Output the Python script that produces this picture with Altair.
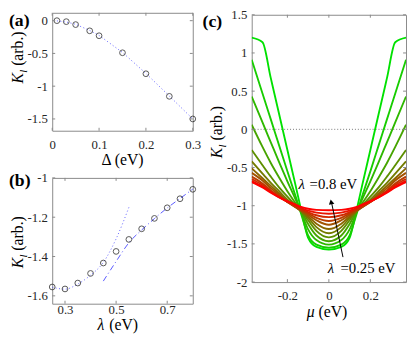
import altair as alt
import pandas as pd

# ---------------- data ----------------
# (a)
delta_a = [0.01, 0.03, 0.05, 0.08, 0.10, 0.15, 0.20, 0.25, 0.30]
k_a = [0.0, -0.015, -0.06, -0.155, -0.23, -0.49, -0.81, -1.155, -1.50]
fit_a_x = [0.01, 0.03, 0.05, 0.08, 0.10, 0.15, 0.20, 0.25, 0.30]
fit_a_y = [-0.003, -0.02, -0.055, -0.15, -0.225, -0.485, -0.805, -1.15, -1.50]

# (b)
lam_b = [0.25, 0.30, 0.35, 0.40, 0.45, 0.50, 0.55, 0.60, 0.65, 0.70, 0.75, 0.80]
k_b = [-1.555, -1.565, -1.535, -1.486, -1.433, -1.374, -1.313, -1.259, -1.206, -1.152, -1.106, -1.058]
fit_b1_x = [0.25, 0.30, 0.35, 0.40, 0.45, 0.50, 0.55]
fit_b1_y = [-1.556, -1.566, -1.54, -1.495, -1.43, -1.31, -1.15]
fit_b2_x = [0.45, 0.50, 0.55, 0.60, 0.65, 0.70, 0.75, 0.80]
fit_b2_y = [-1.525, -1.425, -1.33, -1.265, -1.207, -1.153, -1.105, -1.057]

# (c)
mu_c = [-0.372, -0.32, -0.28, -0.24, -0.20, -0.16, -0.13, -0.10, -0.06, 0.0,
        0.06, 0.10, 0.13, 0.16, 0.20, 0.24, 0.28, 0.32, 0.372]
lam_c = [0.25, 0.30, 0.35, 0.40, 0.45, 0.50, 0.55, 0.60, 0.65, 0.70, 0.75, 0.80]
k_c_025 = [1.20, 1.14, 0.67, 0.20, -0.27, -0.74, -1.10, -1.42, -1.54, -1.575,
           -1.54, -1.42, -1.10, -0.74, -0.27, 0.20, 0.67, 1.14, 1.20]
k_c_030 = [0.91, 0.47, 0.13, -0.21, -0.55, -0.88, -1.14, -1.39, -1.51, -1.55,
           -1.51, -1.39, -1.14, -0.88, -0.55, -0.21, 0.13, 0.47, 0.91]
k_c_035 = [0.43, 0.09, -0.17, -0.43, -0.68, -0.92, -1.11, -1.31, -1.45, -1.51,
           -1.45, -1.31, -1.11, -0.92, -0.68, -0.43, -0.17, 0.09, 0.43]
k_c_040 = [0.06, -0.23, -0.44, -0.63, -0.81, -0.97, -1.09, -1.24, -1.39, -1.465,
           -1.39, -1.24, -1.09, -0.97, -0.81, -0.63, -0.44, -0.23, 0.06]
k_c_045 = [-0.27, -0.47, -0.62, -0.76, -0.88, -1.00, -1.08, -1.19, -1.33, -1.415,
           -1.33, -1.19, -1.08, -1.00, -0.88, -0.76, -0.62, -0.47, -0.27]
k_c_050 = [-0.42, -0.58, -0.70, -0.81, -0.92, -1.01, -1.08, -1.16, -1.28, -1.36,
           -1.28, -1.16, -1.08, -1.01, -0.92, -0.81, -0.70, -0.58, -0.42]
k_c_055 = [-0.51, -0.64, -0.74, -0.84, -0.94, -1.02, -1.08, -1.14, -1.235, -1.305,
           -1.235, -1.14, -1.08, -1.02, -0.94, -0.84, -0.74, -0.64, -0.51]
k_c_060 = [-0.57, -0.67, -0.77, -0.86, -0.95, -1.02, -1.07, -1.12, -1.19, -1.25,
           -1.19, -1.12, -1.07, -1.02, -0.95, -0.86, -0.77, -0.67, -0.57]
k_c_065 = [-0.62, -0.71, -0.80, -0.88, -0.95, -1.015, -1.06, -1.10, -1.16, -1.20,
           -1.16, -1.10, -1.06, -1.015, -0.95, -0.88, -0.80, -0.71, -0.62]
k_c_070 = [-0.65, -0.73, -0.81, -0.88, -0.95, -1.005, -1.05, -1.085, -1.125, -1.15,
           -1.125, -1.085, -1.05, -1.005, -0.95, -0.88, -0.81, -0.73, -0.65]
k_c_075 = [-0.675, -0.75, -0.82, -0.89, -0.945, -0.995, -1.035, -1.065, -1.09, -1.105,
           -1.09, -1.065, -1.035, -0.995, -0.945, -0.89, -0.82, -0.75, -0.675]
k_c_080 = [-0.69, -0.76, -0.83, -0.89, -0.94, -0.985, -1.02, -1.04, -1.055, -1.06,
           -1.055, -1.04, -1.02, -0.985, -0.94, -0.89, -0.83, -0.76, -0.69]
curves_c = [k_c_025, k_c_030, k_c_035, k_c_040, k_c_045, k_c_050,
            k_c_055, k_c_060, k_c_065, k_c_070, k_c_075, k_c_080]

ticks_a_x = [0, 0.1, 0.2, 0.3]
ticks_a_y = [0, -0.5, -1, -1.5]
ticks_b_x = [0.3, 0.5, 0.7]
ticks_b_y = [-1, -1.2, -1.4, -1.6]
ticks_c_x = [-0.2, 0, 0.2]
ticks_c_y = [1.5, 1, 0.5, 0, -0.5, -1, -1.5, -2]

# ---------------- style ----------------
SERIF = "Liberation Serif, Times New Roman, DejaVu Serif, serif"
FRAME = "#8a8a8a"
LBL = "#262626"
BLUE = "#3b3bff"
LABEL_EXPR = "datum.value < 0 ? '-' + format(-datum.value, '~g') : format(datum.value, '~g')"


def make_axis(values, pad, baseline=None):
    kw = dict(values=values, labelExpr=LABEL_EXPR, ticks=False, domain=False, grid=False,
              labelFont=SERIF, labelFontSize=13, labelColor=LBL, labelPadding=pad,
              title=None, labelFlush=False, labelOverlap=False)
    if baseline:
        kw["labelBaseline"] = baseline
    return alt.Axis(**kw)


def one_row():
    return pd.DataFrame({"d": [0]})


def txt(text, x, y, size=16, italic=False, bold=False, angle=None, align="left", baseline="alphabetic"):
    kw = dict(text=text, font=SERIF, fontSize=size, align=align, baseline=baseline, color="black")
    if italic:
        kw["fontStyle"] = "italic"
    if bold:
        kw["fontWeight"] = "bold"
    if angle is not None:
        kw["angle"] = angle
    return alt.Chart(one_row()).mark_text(**kw).encode(x=alt.value(x), y=alt.value(y))


def ytitle(xb, yb):
    return [
        txt("K", xb, yb, 16, italic=True, angle=270),
        txt("l", xb + 4, yb - 11, 11, italic=True, angle=270),
        txt("(arb.)", xb, yb - 18, 16, angle=270),
    ]


def tick_layers(xv, yv, xs, ys, xax, yax, W, H, L=3):
    st = dict(color=FRAME, strokeWidth=1)
    tx = alt.Chart(pd.DataFrame({"v": xv}))
    ty = alt.Chart(pd.DataFrame({"v": yv}))
    return [
        tx.mark_rule(**st).encode(x=alt.X("v:Q", scale=xs, axis=xax), y=alt.value(H), y2=alt.value(H - L)),
        tx.mark_rule(**st).encode(x=alt.X("v:Q", scale=xs, axis=xax), y=alt.value(0), y2=alt.value(L)),
        ty.mark_rule(**st).encode(y=alt.Y("v:Q", scale=ys, axis=yax), x=alt.value(0), x2=alt.value(L)),
        ty.mark_rule(**st).encode(y=alt.Y("v:Q", scale=ys, axis=yax), x=alt.value(W), x2=alt.value(W - L)),
    ]


# ---------------- panel (a) ----------------
WA, HA = 143, 120
xs_a = alt.Scale(domain=[0, 0.3], nice=False, zero=False)
ys_a = alt.Scale(domain=[-1.68, 0.12], nice=False, zero=False)
xax_a = make_axis(ticks_a_x, 8, "top")
yax_a = make_axis(ticks_a_y, 5)

df_a = pd.DataFrame({"x": delta_a, "y": k_a})
df_af = pd.DataFrame({"x": fit_a_x, "y": fit_a_y})
a_fit = alt.Chart(df_af).mark_line(color=BLUE, strokeWidth=1, strokeDash=[1, 2.5], opacity=0.8).encode(
    x=alt.X("x:Q", scale=xs_a, axis=xax_a), y=alt.Y("y:Q", scale=ys_a, axis=yax_a))
a_pts = alt.Chart(df_a).mark_point(shape="circle", size=34, color="#111111", strokeWidth=1, filled=False).encode(
    x=alt.X("x:Q", scale=xs_a, axis=xax_a), y=alt.Y("y:Q", scale=ys_a, axis=yax_a))
panel_a = alt.layer(
    a_fit, a_pts,
    *tick_layers(ticks_a_x, ticks_a_y, xs_a, ys_a, xax_a, yax_a, WA, HA),
    *ytitle(-30, 72),
    txt("Δ (eV)", WA / 2, HA + 35, 16, align="center"),
    txt("(a)", -44, -1, 18, bold=True, baseline="top"),
).properties(width=WA, height=HA)

# ---------------- panel (b) ----------------
WB, HB = 143, 128
xs_b = alt.Scale(domain=[0.25, 0.8], nice=False, zero=False)
ys_b = alt.Scale(domain=[-1.64, -1.0], nice=False, zero=False)
xax_b = make_axis(ticks_b_x, 0, "top")
yax_b = make_axis(ticks_b_y, 5)

df_b = pd.DataFrame({"x": lam_b, "y": k_b})
df_b1 = pd.DataFrame({"x": fit_b1_x, "y": fit_b1_y})
df_b2 = pd.DataFrame({"x": fit_b2_x, "y": fit_b2_y})
b_fit1 = alt.Chart(df_b1).mark_line(color=BLUE, strokeWidth=1, strokeDash=[1, 2.5], opacity=0.8,
                                    interpolate="monotone").encode(
    x=alt.X("x:Q", scale=xs_b, axis=xax_b), y=alt.Y("y:Q", scale=ys_b, axis=yax_b))
b_fit2 = alt.Chart(df_b2).mark_line(color=BLUE, strokeWidth=1, strokeDash=[6, 3, 1, 3], opacity=0.85,
                                    interpolate="monotone").encode(
    x=alt.X("x:Q", scale=xs_b, axis=xax_b), y=alt.Y("y:Q", scale=ys_b, axis=yax_b))
b_pts = alt.Chart(df_b).mark_point(shape="circle", size=34, color="#111111", strokeWidth=1, filled=False).encode(
    x=alt.X("x:Q", scale=xs_b, axis=xax_b), y=alt.Y("y:Q", scale=ys_b, axis=yax_b))
panel_b = alt.layer(
    b_fit1, b_fit2, b_pts,
    *tick_layers(ticks_b_x, ticks_b_y, xs_b, ys_b, xax_b, yax_b, WB, HB),
    *ytitle(-30, 92),
    txt("λ", 46, HB + 27, 16, italic=True),
    txt("(eV)", 58, HB + 27, 16),
    txt("(b)", -44, -6, 18, bold=True, baseline="top"),
).properties(width=WB, height=HB)

# ---------------- panel (c) ----------------
WC, HC = 157, 272
xs_c = alt.Scale(domain=[-0.372, 0.372], nice=False, zero=False)
ys_c = alt.Scale(domain=[-2, 1.5], nice=False, zero=False)
xax_c = make_axis(ticks_c_x, 8, "top")
yax_c = make_axis(ticks_c_y, 5)

rows = []
for lam, ks in zip(lam_c, curves_c):
    for m, k in zip(mu_c, ks):
        rows.append({"mu": m, "K": k, "lam": f"{lam:.2f}"})
df_c = pd.DataFrame(rows)
lam_keys = [f"{v:.2f}" for v in lam_c]
n = len(lam_keys)
colors = []
for i in range(n):
    t = i / (n - 1)
    r = round(255 * t)
    g = round(225 * (1 - t))
    colors.append(f"#{r:02x}{g:02x}00")

c_zero = alt.Chart(pd.DataFrame({"y": [0]})).mark_rule(color="#555555", strokeWidth=0.8, strokeDash=[1, 2]).encode(
    y=alt.Y("y:Q", scale=ys_c, axis=yax_c))
c_lines = alt.Chart(df_c).mark_line(strokeWidth=1.9, interpolate="monotone", clip=True).encode(
    x=alt.X("mu:Q", scale=xs_c, axis=xax_c),
    y=alt.Y("K:Q", scale=ys_c, axis=yax_c),
    color=alt.Color("lam:N", scale=alt.Scale(domain=lam_keys, range=colors), legend=None),
    order=alt.Order("mu:Q"),
)

arrow_df = pd.DataFrame({"x1": [0.068], "y1": [-1.673], "x2": [0.013], "y2": [-0.96]})
c_arrow = alt.Chart(arrow_df).mark_rule(color="black", strokeWidth=1).encode(
    x=alt.X("x1:Q", scale=xs_c, axis=xax_c), y=alt.Y("y1:Q", scale=ys_c, axis=yax_c),
    x2="x2:Q", y2="y2:Q")
head_df = pd.DataFrame({"x": [0.011], "y": [-0.95]})
c_head = alt.Chart(head_df).mark_point(shape="triangle-up", filled=True, size=32, color="black",
                                       angle=348, opacity=1).encode(
    x=alt.X("x:Q", scale=xs_c, axis=xax_c), y=alt.Y("y:Q", scale=ys_c, axis=yax_c))


def dtxt(text, mu, k, italic=False, size=15):
    kw = dict(text=text, font=SERIF, fontSize=size, align="left", baseline="alphabetic", color="black")
    if italic:
        kw["fontStyle"] = "italic"
    return alt.Chart(pd.DataFrame({"x": [mu], "y": [k]})).mark_text(**kw).encode(
        x=alt.X("x:Q", scale=xs_c, axis=xax_c), y=alt.Y("y:Q", scale=ys_c, axis=yax_c))


panel_c = alt.layer(
    c_zero, c_lines, c_arrow, c_head,
    dtxt("λ", -0.147, -0.785, italic=True),
    dtxt("=0.8 eV", -0.093, -0.785),
    dtxt("λ", -0.006, -1.876, italic=True),
    dtxt("=0.25 eV", 0.056, -1.876),
    *tick_layers(ticks_c_x, ticks_c_y, xs_c, ys_c, xax_c, yax_c, WC, HC),
    *ytitle(-30, 146),
    txt("μ", 56, HC + 36, 16, italic=True),
    txt("(eV)", 68, HC + 36, 16),
    txt("(c)", -50, -2, 18, bold=True, baseline="top"),
).properties(width=WC, height=HC)

# small invisible spacer so that panel (c) sits 2 px lower than panel (a)
spacer = alt.Chart(one_row()).mark_rule(opacity=0).encode(
    x=alt.value(0), x2=alt.value(1), y=alt.value(0)
).properties(width=WC, height=2, view=alt.ViewBackground(stroke="transparent"))

left = alt.vconcat(panel_a, panel_b, spacing=48, bounds="flush")
right = alt.vconcat(spacer, panel_c, spacing=0, bounds="flush")
chart = alt.hconcat(left, right, spacing=0).properties(
    padding={"left": 0, "top": -3, "right": 0, "bottom": 0}
).configure_view(stroke=FRAME, strokeWidth=1)

chart.save("out.html", embed_options={"renderer": "svg", "actions": False})
